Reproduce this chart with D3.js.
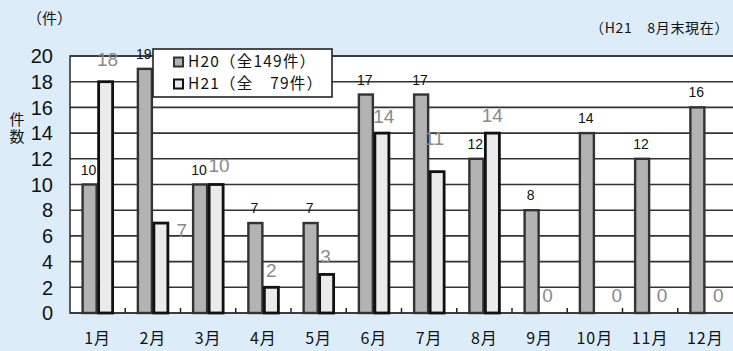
<!DOCTYPE html>
<html>
<head>
<meta charset="utf-8">
<script src="https://cdn.jsdelivr.net/npm/d3@7"></script>
<style>
  html, body { margin: 0; padding: 0; background: #dcedf9; }
  svg { display: block; }
</style>
</head>
<body>
<svg id="chart" width="733" height="351"></svg>
<script>
// Monthly case counts
const months = ["1月", "2月", "3月", "4月", "5月", "6月", "7月", "8月", "9月", "10月", "11月", "12月"];
const h20 = [10, 19, 10, 7, 7, 17, 17, 12, 8, 14, 12, 16];
const h21 = [18, 7, 10, 2, 3, 14, 11, 14, 0, 0, 0, 0];
const yTicks = [0, 2, 4, 6, 8, 10, 12, 14, 16, 18, 20];
const seriesNames = ["H20（全149件）", "H21（全　79件）"];

const svg = d3.select("#chart");
const jp = "'Noto Sans CJK JP', sans-serif";
const num = "'Liberation Sans', Arial, sans-serif";

const plot = { left: 70, right: 733, top: 56, bottom: 313 };

const x = d3.scaleBand().domain(months).range([plot.left, plot.right]).paddingInner(0).paddingOuter(0);
const y = d3.scaleLinear().domain([0, 20]).range([plot.bottom, plot.top]);
const barW = 16;
const sub = d3.scaleBand().domain(["h20", "h21"]).range([-barW, barW]).padding(0);

// plot area
svg.append("rect")
  .attr("x", plot.left).attr("y", plot.top)
  .attr("width", plot.right - plot.left + 10).attr("height", plot.bottom - plot.top)
  .attr("fill", "#ffffff").attr("stroke", "#2a2a2a").attr("stroke-width", 1.5);

// horizontal gridlines
svg.append("g").selectAll("line").data(yTicks).join("line")
  .attr("x1", plot.left).attr("x2", plot.right + 10)
  .attr("y1", d => y(d)).attr("y2", d => y(d))
  .attr("stroke", "#333").attr("stroke-width", 1.6);

// y axis labels
svg.append("g").selectAll("text").data(yTicks).join("text")
  .attr("x", 53).attr("y", d => y(d))
  .attr("dy", "0.36em")
  .attr("text-anchor", "end")
  .attr("font-family", num).attr("font-size", 20)
  .attr("fill", "#111")
  .text(d => d);

// category tick marks on the baseline
svg.append("g").selectAll("line").data(months.slice(1)).join("line")
  .attr("x1", d => x(d)).attr("x2", d => x(d))
  .attr("y1", plot.bottom).attr("y2", plot.bottom - 5)
  .attr("stroke", "#222").attr("stroke-width", 1.5);

// category labels
svg.append("g").selectAll("text").data(months).join("text")
  .attr("x", d => x(d) + x.bandwidth() / 2).attr("y", 344)
  .attr("text-anchor", "middle")
  .attr("font-family", jp).attr("font-size", 16)
  .attr("letter-spacing", 1)
  .attr("fill", "#111")
  .text(d => d);

const cx = (m, key) => x(m) + x.bandwidth() / 2 + sub(key);

// H20 bars
svg.append("g").selectAll("rect").data(months).join("rect")
  .attr("x", (m) => cx(m, "h20") + 1)
  .attr("width", barW - 2)
  .attr("y", (m, i) => y(h20[i]))
  .attr("height", (m, i) => y(0) - y(h20[i]))
  .attr("fill", "#b3b3b3").attr("stroke", "#333").attr("stroke-width", 2.4);

// H20 value labels
svg.append("g").selectAll("text").data(months).join("text")
  .attr("x", (m) => cx(m, "h20") + barW / 2 - 1)
  .attr("y", (m, i) => y(h20[i]) - 10)
  .attr("text-anchor", "middle")
  .attr("font-family", num).attr("font-size", 14)
  .attr("fill", "#111")
  .text((m, i) => h20[i]);

// H21 bars (zero-height months are not drawn)
svg.append("g").selectAll("rect").data(months.filter((m, i) => h21[i] > 0)).join("rect")
  .attr("x", (m) => cx(m, "h21") + 1)
  .attr("width", barW - 2)
  .attr("y", (m) => y(h21[months.indexOf(m)]))
  .attr("height", (m) => y(0) - y(h21[months.indexOf(m)]))
  .attr("fill", "#ebebeb").attr("stroke", "#111").attr("stroke-width", 2.8);

// H21 value labels, nudged clear of neighbouring marks
const h21Nudge = [[2, -16], [21, 14], [3, -13], [0, -10], [-1, -11], [2, -10],
                  [-3, -27], [0, -11], [0, -11], [14, -11], [4, -11], [5, -11]];
svg.append("g").selectAll("text").data(months).join("text")
  .attr("x", (m, i) => cx(m, "h21") + barW / 2 + h21Nudge[i][0])
  .attr("y", (m, i) => y(h21[i]) + h21Nudge[i][1])
  .attr("text-anchor", "middle")
  .attr("font-family", num).attr("font-size", 19)
  .attr("fill", "#8a8a8a")
  .text((m, i) => h21[i]);

// legend
const lg = svg.append("g").attr("transform", "translate(153,49)");
lg.append("rect").attr("width", 179).attr("height", 48)
  .attr("fill", "#fff").attr("stroke", "#222").attr("stroke-width", 1.6);
const swatch = [{ fill: "#b3b3b3", stroke: "#333" }, { fill: "#ebebeb", stroke: "#111" }];
seriesNames.forEach((name, i) => {
  const gy = 12.5 + i * 22;
  lg.append("rect").attr("x", 21).attr("y", gy - 4).attr("width", 9).attr("height", 9)
    .attr("fill", swatch[i].fill).attr("stroke", swatch[i].stroke).attr("stroke-width", 2);
  lg.append("text").attr("x", 35).attr("y", gy).attr("dy", "0.36em")
    .attr("font-family", jp).attr("font-size", 15.5).attr("letter-spacing", 1.2).attr("fill", "#111")
    .text(name);
});

// titles
svg.append("text").attr("x", 27).attr("y", 24)
  .attr("font-family", jp).attr("font-size", 15).attr("fill", "#111").text("（件）");
svg.append("text").attr("x", 590).attr("y", 33)
  .attr("font-family", jp).attr("font-size", 14).attr("letter-spacing", 0.7).attr("fill", "#111").text("（H21　8月末現在）");

// vertical axis title, set top to bottom
svg.append("text")
  .attr("x", 17).attr("y", 112)
  .attr("writing-mode", "vertical-rl")
  .style("writing-mode", "vertical-rl")
  .attr("letter-spacing", 1.5)
  .attr("font-family", jp).attr("font-size", 15).attr("fill", "#111")
  .text("件数");
</script>
</body>
</html>
